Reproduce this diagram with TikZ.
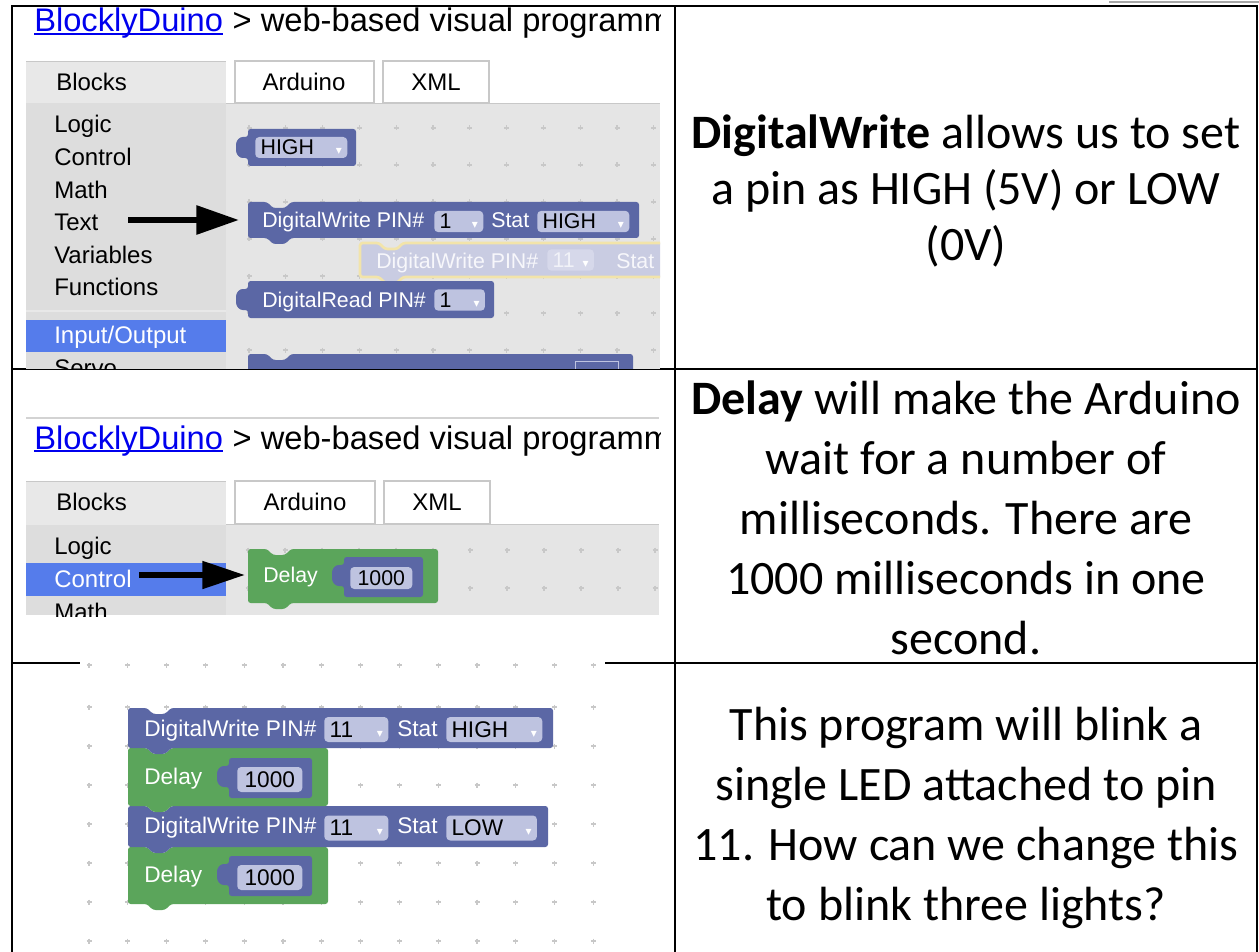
\documentclass[tikz,border=0pt]{standalone}
\usepackage{fontspec}
\setmainfont{Carlito}
\newfontfamily\uifont{Liberation Sans}
\newfontfamily\symfont{DejaVu Sans}
\usetikzlibrary{arrows.meta,positioning}

\definecolor{linkblue}{RGB}{0,0,238}
\definecolor{blockpurple}{RGB}{91,103,165}
\definecolor{blockgreen}{RGB}{91,165,91}
\definecolor{fieldlight}{RGB}{190,195,224}
\definecolor{sidegray}{RGB}{221,221,221}
\definecolor{headgray}{RGB}{232,232,232}
\definecolor{wsgray}{RGB}{229,229,229}
\definecolor{tabline}{RGB}{200,200,200}
\definecolor{selblue}{RGB}{85,124,235}
\definecolor{ghostfill}{RGB}{201,204,226}
\definecolor{ghostfield}{RGB}{214,216,234}
\definecolor{ghostedge}{RGB}{242,228,170}
\definecolor{dotgray}{RGB}{200,200,200}

\newcommand{\drop}{{\symfont\fontsize{9}{9}\selectfont\textcolor{white}{▾}}}

% statement block with notch and tab: x, y, width, height, style
\newcommand{\stmtblock}[5]{%
  \path[#5, rounded corners=2pt] (#1,#2+#4) -- (#1,#2) -- (#1+19,#2) -- (#1+25,#2+6)
    -- (#1+37,#2+6) -- (#1+43,#2) -- (#1+#3,#2) -- (#1+#3,#2+#4) -- (#1+43,#2+#4)
    -- (#1+37,#2+#4+6) -- (#1+25,#2+#4+6) -- (#1+19,#2+#4) -- cycle;}
% value block with tab on the left: x, y, width, height, style
\newcommand{\valblock}[5]{%
  \path[#5, rounded corners=2pt] (#1+12,#2) -- (#1+#3,#2) -- (#1+#3,#2+#4)
    -- (#1+12,#2+#4) -- (#1+12,#2+29) -- (#1+4,#2+29) -- (#1,#2+24)
    -- (#1,#2+13) -- (#1+4,#2+8) -- (#1+12,#2+8) -- cycle;}

\begin{document}
\begin{tikzpicture}[x=0.75pt, y=-0.75pt]
  \tikzstyle{menu} = [anchor=base west, inner sep=0pt, font=\uifont\fontsize{18}{18}\selectfont]
  \tikzstyle{titletext} = [anchor=base west, inner sep=0pt, font=\uifont\fontsize{24.5}{24.5}\selectfont]
  \tikzstyle{tabbox} = [draw=tabline, fill=white, line width=0.8pt]
  \tikzstyle{btext} = [anchor=base west, inner sep=0pt, text=white, font=\uifont\fontsize{16}{16}\selectfont]
  \tikzstyle{btextbig} = [btext, font=\uifont\fontsize{17}{17}\selectfont]
  \tikzstyle{field} = [anchor=west, fill=fieldlight, rounded corners=3pt, inner xsep=4pt, inner ysep=0pt,
    minimum height=16pt, text=black, font=\uifont\fontsize{16}{16}\selectfont]
  \tikzstyle{fieldbig} = [field, minimum height=18.75pt, font=\uifont\fontsize{17}{17}\selectfont]
  \tikzstyle{desc} = [align=center, inner sep=0pt, font=\fontsize{36}{45}\selectfont]
  \tikzstyle{bigarrow} = [-{Triangle[length=32pt, width=21pt]}, line width=4.5pt]
  \tikzstyle{wsdot} = [dotgray, line width=0.8pt]
  \tikzstyle{tablerule} = [line width=1.8pt]

  \useasboundingbox (0,0) rectangle (1259,952);
  \fill[white] (0,0) rectangle (1259,952);

  % table
  \draw[tablerule] (12,952) -- (12,6) -- (1257,6) -- (1257,952);
  \draw[tablerule] (675,6) -- (675,952);
  \draw[tablerule] (12,369) -- (1257,369);
  \draw[tablerule] (12,663) -- (1257,663);
  \draw[gray!70, line width=1.5pt] (1109,2) -- (1259,2);

  % first screenshot
  \begin{scope}
    \clip (14,8) rectangle (660,368);
    \node[titletext, text=linkblue] (link1) at (34,32) {BlocklyDuino};
    \draw[linkblue, line width=1.5pt] ([yshift=-1.5pt]link1.base west) -- ([yshift=-1.5pt]link1.base east);
    \node[titletext] (title1) at ([xshift=6.8pt]link1.base east) {> web-based visual programm};
    \fill[sidegray] (26,61) rectangle (226,369);
    \fill[headgray] (26,61) rectangle (226,103);
    \draw[tabline] (26,61) -- (226,61);
    \draw[headgray, line width=1.5pt] (26,311) -- (226,311);
    \fill[wsgray] (226,103) rectangle (660,369);
    \draw[tabline] (226,103) -- (660,103);
    \draw[tabbox] (235,61) rectangle (374,103);
    \draw[tabbox] (383,61) rectangle (489,103);
    \node[menu] (blocks1) at (56,91) {Blocks};
    \node[menu, anchor=base] (ino1) at (304,91) {Arduino};
    \node[menu, anchor=base] (xml1) at (436,91) {XML};
    \foreach \name/\y in {Logic/133, Control/166, Math/199, Text/231, Variables/263, Functions/296}
      \node[menu] (m1-\name) at (54,\y) {\name};
    \fill[selblue] (26,320) rectangle (226,352);
    \node[menu, text=white] (io1) at (54,343) {Input/Output};
    \node[menu] (servo1) at (54,376) {Servo};
    \foreach \x in {249,285.8,...,662}
      \foreach \y in {128,165,...,369}
        \draw[wsdot] (\x-2.5,\y) -- (\x+2.5,\y) (\x,\y-2.5) -- (\x,\y+2.5);

    % blocks
    \valblock{236}{129}{120}{37}{fill=blockpurple}
    \node[field, text width=61pt, minimum height=15.75pt] (high1) at (255,147.5) {HIGH\hfill\drop};
    \stmtblock{248}{202}{391}{36}{fill=blockpurple}
    \node[btext] (dw1) at (262,228) {DigitalWrite PIN\#};
    \node[field, text width=28.75pt] (pin1) at (434,221.5) {1\hfill\drop};
    \node[btext] (stat1) at (491,228) {Stat};
    \node[field, text width=61pt] (state1) at (537,221.5) {HIGH\hfill\drop};
    \stmtblock{360}{243}{320}{34}{fill=ghostfill, draw=ghostedge, line width=2pt}
    \node[btext, text=white!85!ghostfill] (ghost1) at (376,268) {DigitalWrite PIN\#};
    \node[field, fill=ghostfield, text=white!75!ghostfill, text width=27pt] (ghostpin) at (547,260) {11\hfill\drop};
    \node[btext, text=white!85!ghostfill] (ghoststat) at (616,268) {Stat};
    \valblock{236}{281}{258}{37}{fill=blockpurple}
    \node[btext] (dr1) at (262,307.5) {DigitalRead PIN\#};
    \node[field, text width=30pt] (pin2) at (434,300) {1\hfill\drop};
    \stmtblock{248}{354}{385}{40}{fill=blockpurple}
    \draw[fieldlight] (575,361) rectangle (618,380);

    \coordinate (tail1) at (128,220);
    \coordinate (dw1in) at (239,220);
    \draw[bigarrow] (tail1) -- (dw1in);
  \end{scope}

  % second screenshot
  \begin{scope}
    \clip (14,371) rectangle (660,616);
    \draw[tabline!80, line width=2pt] (26,418) -- (659,418);
    \node[titletext, text=linkblue] (link2) at (34,449) {BlocklyDuino};
    \draw[linkblue, line width=1.5pt] ([yshift=-1.5pt]link2.base west) -- ([yshift=-1.5pt]link2.base east);
    \node[titletext] (title2) at ([xshift=6.8pt]link2.base east) {> web-based visual programm};
    \fill[sidegray] (26,481) rectangle (226,615);
    \fill[headgray] (26,481) rectangle (226,525);
    \draw[tabline] (26,481) -- (226,481);
    \fill[wsgray] (226,524) rectangle (659,615);
    \draw[tabline] (226,524) -- (659,524);
    \draw[tabbox] (235,481) rectangle (375,524);
    \draw[tabbox] (384,481) rectangle (490,524);
    \node[menu] (blocks2) at (56,510) {Blocks};
    \node[menu, anchor=base] (ino2) at (305,510) {Arduino};
    \node[menu, anchor=base] (xml2) at (437,510) {XML};
    \node[menu] (logic2) at (54,554) {Logic};
    \fill[selblue] (26,563) rectangle (226,596);
    \node[menu, text=white] (control2) at (54,587) {Control};
    \node[menu] (math2) at (54,620) {Math};
    \foreach \x in {248,285,...,662}
      \foreach \y in {550,588}
        \draw[wsdot] (\x-2.5,\y) -- (\x+2.5,\y) (\x,\y-2.5) -- (\x,\y+2.5);

    \stmtblock{248}{549}{190}{54}{fill=blockgreen}
    \node[btext] (delay2) at (263,582) {Delay};
    \valblock{332}{557}{91}{40}{fill=blockpurple}
    \node[field, align=center, text width=38.5pt, minimum height=16.5pt] (ms2) at (350,578) {1000};

    \coordinate (tail2) at (139,575);
    \coordinate (delayin) at (245,575);
    \draw[bigarrow, -{Triangle[length=32pt, width=20pt]}] (tail2) -- (delayin);
  \end{scope}

  % third screenshot
  \fill[white] (80,661) rectangle (605,952);
  \foreach \x in {89,127.8,...,595}
    \foreach \y in {665,707,746,785,824,863,902,941}
      \draw[wsdot] (\x-2.5,\y) -- (\x+2.5,\y) (\x,\y-2.5) -- (\x,\y+2.5);
  \stmtblock{128}{847}{200}{57}{fill=blockgreen}
  \stmtblock{128}{806}{420}{41}{fill=blockpurple}
  \stmtblock{128}{748}{200}{58}{fill=blockgreen}
  \stmtblock{128}{708}{425}{40}{fill=blockpurple}
  \valblock{217}{758}{95}{40}{fill=blockpurple}
  \valblock{217}{856}{95}{40}{fill=blockpurple}

  \node[btextbig] (dwa) at (144,736) {DigitalWrite PIN\#};
  \node[fieldbig, text width=40pt] (pina) at (324,729.5) {11\hfill\drop};
  \node[btextbig] (stata) at (397,736) {Stat};
  \node[fieldbig, text width=64pt] (statea) at (446,729.5) {HIGH\hfill\drop};
  \node[btextbig] (delaya) at (144,784) {Delay};
  \node[fieldbig, align=center, text width=40.75pt] (msa) at (237,779.5) {1000};
  \node[btextbig] (dwb) at (144,833) {DigitalWrite PIN\#};
  \node[fieldbig, text width=40pt] (pinb) at (324,828) {11\hfill\drop};
  \node[btextbig] (statb) at (397,833) {Stat};
  \node[fieldbig, text width=60pt] (stateb) at (446,828) {LOW\hfill\drop};
  \node[btextbig] (delayb) at (144,882) {Delay};
  \node[fieldbig, align=center, text width=40.75pt] (msb) at (237,877.5) {1000};

  % descriptions
  \node[desc, font=\fontsize{36}{42}\selectfont] (txt1) at (966,191) {\textbf{DigitalWrite} allows us to set\\a pin as HIGH (5V) or LOW\\(0V)};
  \node[desc] (txt2) at (966,518) {\textbf{Delay} will make the Arduino\\wait for a number of\\milliseconds. There are\\1000 milliseconds in one\\second.};
  \node[desc] (txt3) at (966,818) {This program will blink a\\single LED attached to pin\\11. How can we change this\\to blink three lights?};
\end{tikzpicture}
\end{document}
